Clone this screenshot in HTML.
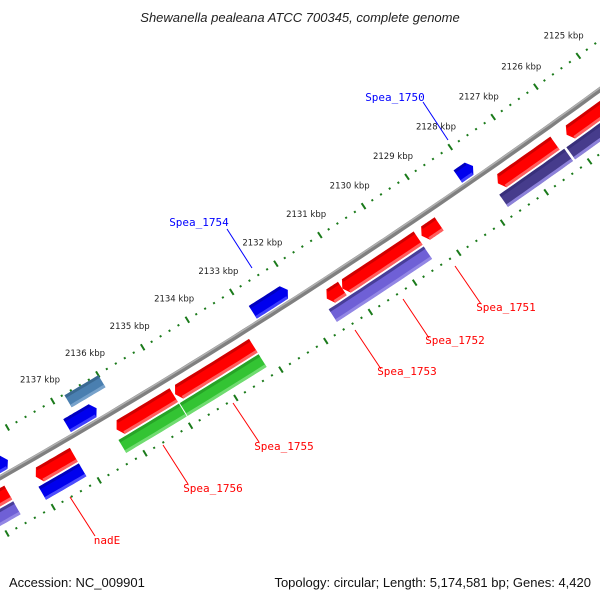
<!DOCTYPE html>
<html><head><meta charset="utf-8"><style>
body{margin:0;background:#fff;}
svg{display:block;}
</style></head><body>
<svg id="map" width="600" height="600" viewBox="0 0 600 600" xmlns="http://www.w3.org/2000/svg">
<rect width="600" height="600" fill="#fff"/>
<text x="300" y="22" text-anchor="middle" font-family="Liberation Sans, sans-serif" font-style="italic" font-size="13" fill="#222">Shewanella pealeana ATCC 700345, complete genome</text>
<g id="plot"></g>
<text x="9" y="587" font-family="Liberation Sans, sans-serif" font-size="13" fill="#111">Accession: NC_009901</text>
<text x="591" y="587" text-anchor="end" font-family="Liberation Sans, sans-serif" font-size="13" fill="#111">Topology: circular; Length: 5,174,581 bp; Genes: 4,420</text>
</svg>
<script>
// ---- data ----
const tickKbp = [2125,2126,2127,2128,2129,2130,2131,2132,2133,2134,2135,2136,2137];
const tickLabels = ["2125 kbp","2126 kbp","2127 kbp","2128 kbp","2129 kbp","2130 kbp","2131 kbp","2132 kbp","2133 kbp","2134 kbp","2135 kbp","2136 kbp","2137 kbp"];
// outer track 1 (forward, red): start,end kbp
const redStart = [2124.5,2126.33,2129.0,2129.48,2131.2,2133.2,2134.97,2137.17,2138.6];
const redEnd   = [2126.06,2127.65,2129.4,2131.2,2131.55,2134.94,2136.23,2138.0,2139.2];
// outer track 2 (COG colours)
const cogStart = [2124.5,2126.25,2129.48,2133.2,2134.97,2137.17,2138.6];
const cogEnd   = [2126.2,2127.75,2131.63,2134.95,2136.3,2138.05,2139.2];
const cogColor = ["#463c8c","#463c8c","#6f60d6","#33c433","#33c433","#0000ee","#6f60d6"];
// inner track (reverse, blue)
const revStart = [2127.85,2132.08,2136.35,2138.3];
const revEnd   = [2128.2,2132.87,2137.0,2138.7];
// inner-most track (steelblue)
const innerStart = [2136.0];
const innerEnd   = [2136.75];
const labelNames = ["Spea_1750","Spea_1754","Spea_1751","Spea_1752","Spea_1753","Spea_1755","Spea_1756","nadE"];

// ---- geometry ----
const CX=-3115, CY=-4996;
const A0=55.27, DEG_PER_KBP=0.48;
function ang(k){return (A0+(k-2128)*DEG_PER_KBP)*Math.PI/180;}
function pt(r,k){const a=ang(k);return [CX+r*Math.cos(a), CY+r*Math.sin(a)];}
const NS="http://www.w3.org/2000/svg";
const plot=document.getElementById('plot');
function mk(tag,attrs){const e=document.createElementNS(NS,tag);for(const k in attrs)e.setAttribute(k,attrs[k]);plot.appendChild(e);return e;}
function arcPts(r,k1,k2,n){const p=[];for(let i=0;i<=n;i++){p.push(pt(r,k1+(k2-k1)*i/n));}return p;}
function poly(points){return points.map(p=>p[0].toFixed(1)+","+p[1].toFixed(1)).join(" ");}

// backbone
const bb=mk('polyline',{points:poly(arcPts(6298,2124,2140,80)),fill:'none',stroke:'#808080','stroke-width':5});


const bbh=mk('polyline',{points:poly(arcPts(6296.5,2124,2140,80)),fill:'none',stroke:'#b0b0b0','stroke-width':1.5});



// tick rings
function ring(r,name){
  for(let k=2124;k<=2140.001;k+=0.2){
    const major=Math.abs(k-Math.round(k))<0.01;
    const a=pt(r-(major?3.5:1),k), b=pt(r+(major?3.5:1),k);
    const t=mk('line',{x1:a[0],y1:a[1],x2:b[0],y2:b[1],stroke:'#1a7a1a','stroke-width':2});
    
    
  }
}
ring(6258,'inner-ring');
ring(6350,'outer-ring');
tickKbp.forEach((k,i)=>{
  const p=pt(6233,k);
  const t=mk('text',{x:p[0].toFixed(1),y:(p[1]+3).toFixed(1),'text-anchor':'middle','font-family':'DejaVu Sans, sans-serif','font-size':'8.5',fill:'#222'});
  t.textContent=tickLabels[i];
  
  
});

// features
function feature(r1,r2,k1,k2,color,light,dark,dir,name){
  const tip=0.09, rm=(r1+r2)/2;
  let a=k1,b=k2;
  if(dir>0)b=k2-tip; if(dir<0)a=k1+tip;
  let pts=arcPts(r1,a,b,12);
  if(dir>0)pts.push(pt(rm,k2));
  pts=pts.concat(arcPts(r2,b,a,12));
  if(dir<0)pts.push(pt(rm,k1));
  const g=mk('polygon',{points:poly(pts),fill:color});
  
  
  const d=arcPts(r1,a,b,12).concat(arcPts(r1+3,b,a,12));
  const dd=mk('polygon',{points:poly(d),fill:dark,opacity:0.6});
  
  
  const s=arcPts(r2-3,a,b,12).concat(arcPts(r2,b,a,12));
  const h=mk('polygon',{points:poly(s),fill:light,opacity:0.85});
  
  
}
redStart.forEach((s,i)=>feature(6307,6323,s,redEnd[i],'#ff0000','#ff7070','#b00000',1,'forward-gene-'+i));
cogStart.forEach((s,i)=>{
  const c=cogColor[i];
  const light=c==='#33c433'?'#7be07b':(c==='#0000ee'?'#5a5aff':'#9a8ee8');
  const dark=c==='#33c433'?'#1f8f1f':(c==='#0000ee'?'#0000a0':'#2e2870');
  feature(6325,6340,s,cogEnd[i],c,light,dark,0,'cog-gene-'+i);
});
revStart.forEach((s,i)=>feature(6279,6294,s,revEnd[i],'#0000ee','#4a4aff','#0000a0',-1,'reverse-gene-'+i));
innerStart.forEach((s,i)=>feature(6259,6273,s,innerEnd[i],'#4a7fb0','#7fa8d0','#305a80',0,'inner-gene-'+i));

// labels (position + leader lines)
const labelX=[395,199,506,455,407,284,213,107];
const labelY=[101,226,311,344,375,450,492,544];
const lineA=[[423,102],[227,229],[455,266],[403,299],[355,330],[233,403],[163,445],[70,497]];
const lineB=[[448,140],[252,268],[481,304],[429,338],[381,369],[259,442],[188,484],[95,536]];
const labelColor=["#0000ff","#0000ff","#ff0000","#ff0000","#ff0000","#ff0000","#ff0000","#ff0000"];
labelNames.forEach((n,i)=>{
  const l=mk('line',{x1:lineA[i][0],y1:lineA[i][1],x2:lineB[i][0],y2:lineB[i][1],stroke:labelColor[i],'stroke-width':1});
  
  
  const t=mk('text',{x:labelX[i],y:labelY[i],'text-anchor':'middle','font-family':'DejaVu Sans Mono, Liberation Mono, monospace','font-size':'11',fill:labelColor[i]});
  t.textContent=n;
  
  
});
</script>
</body></html>
